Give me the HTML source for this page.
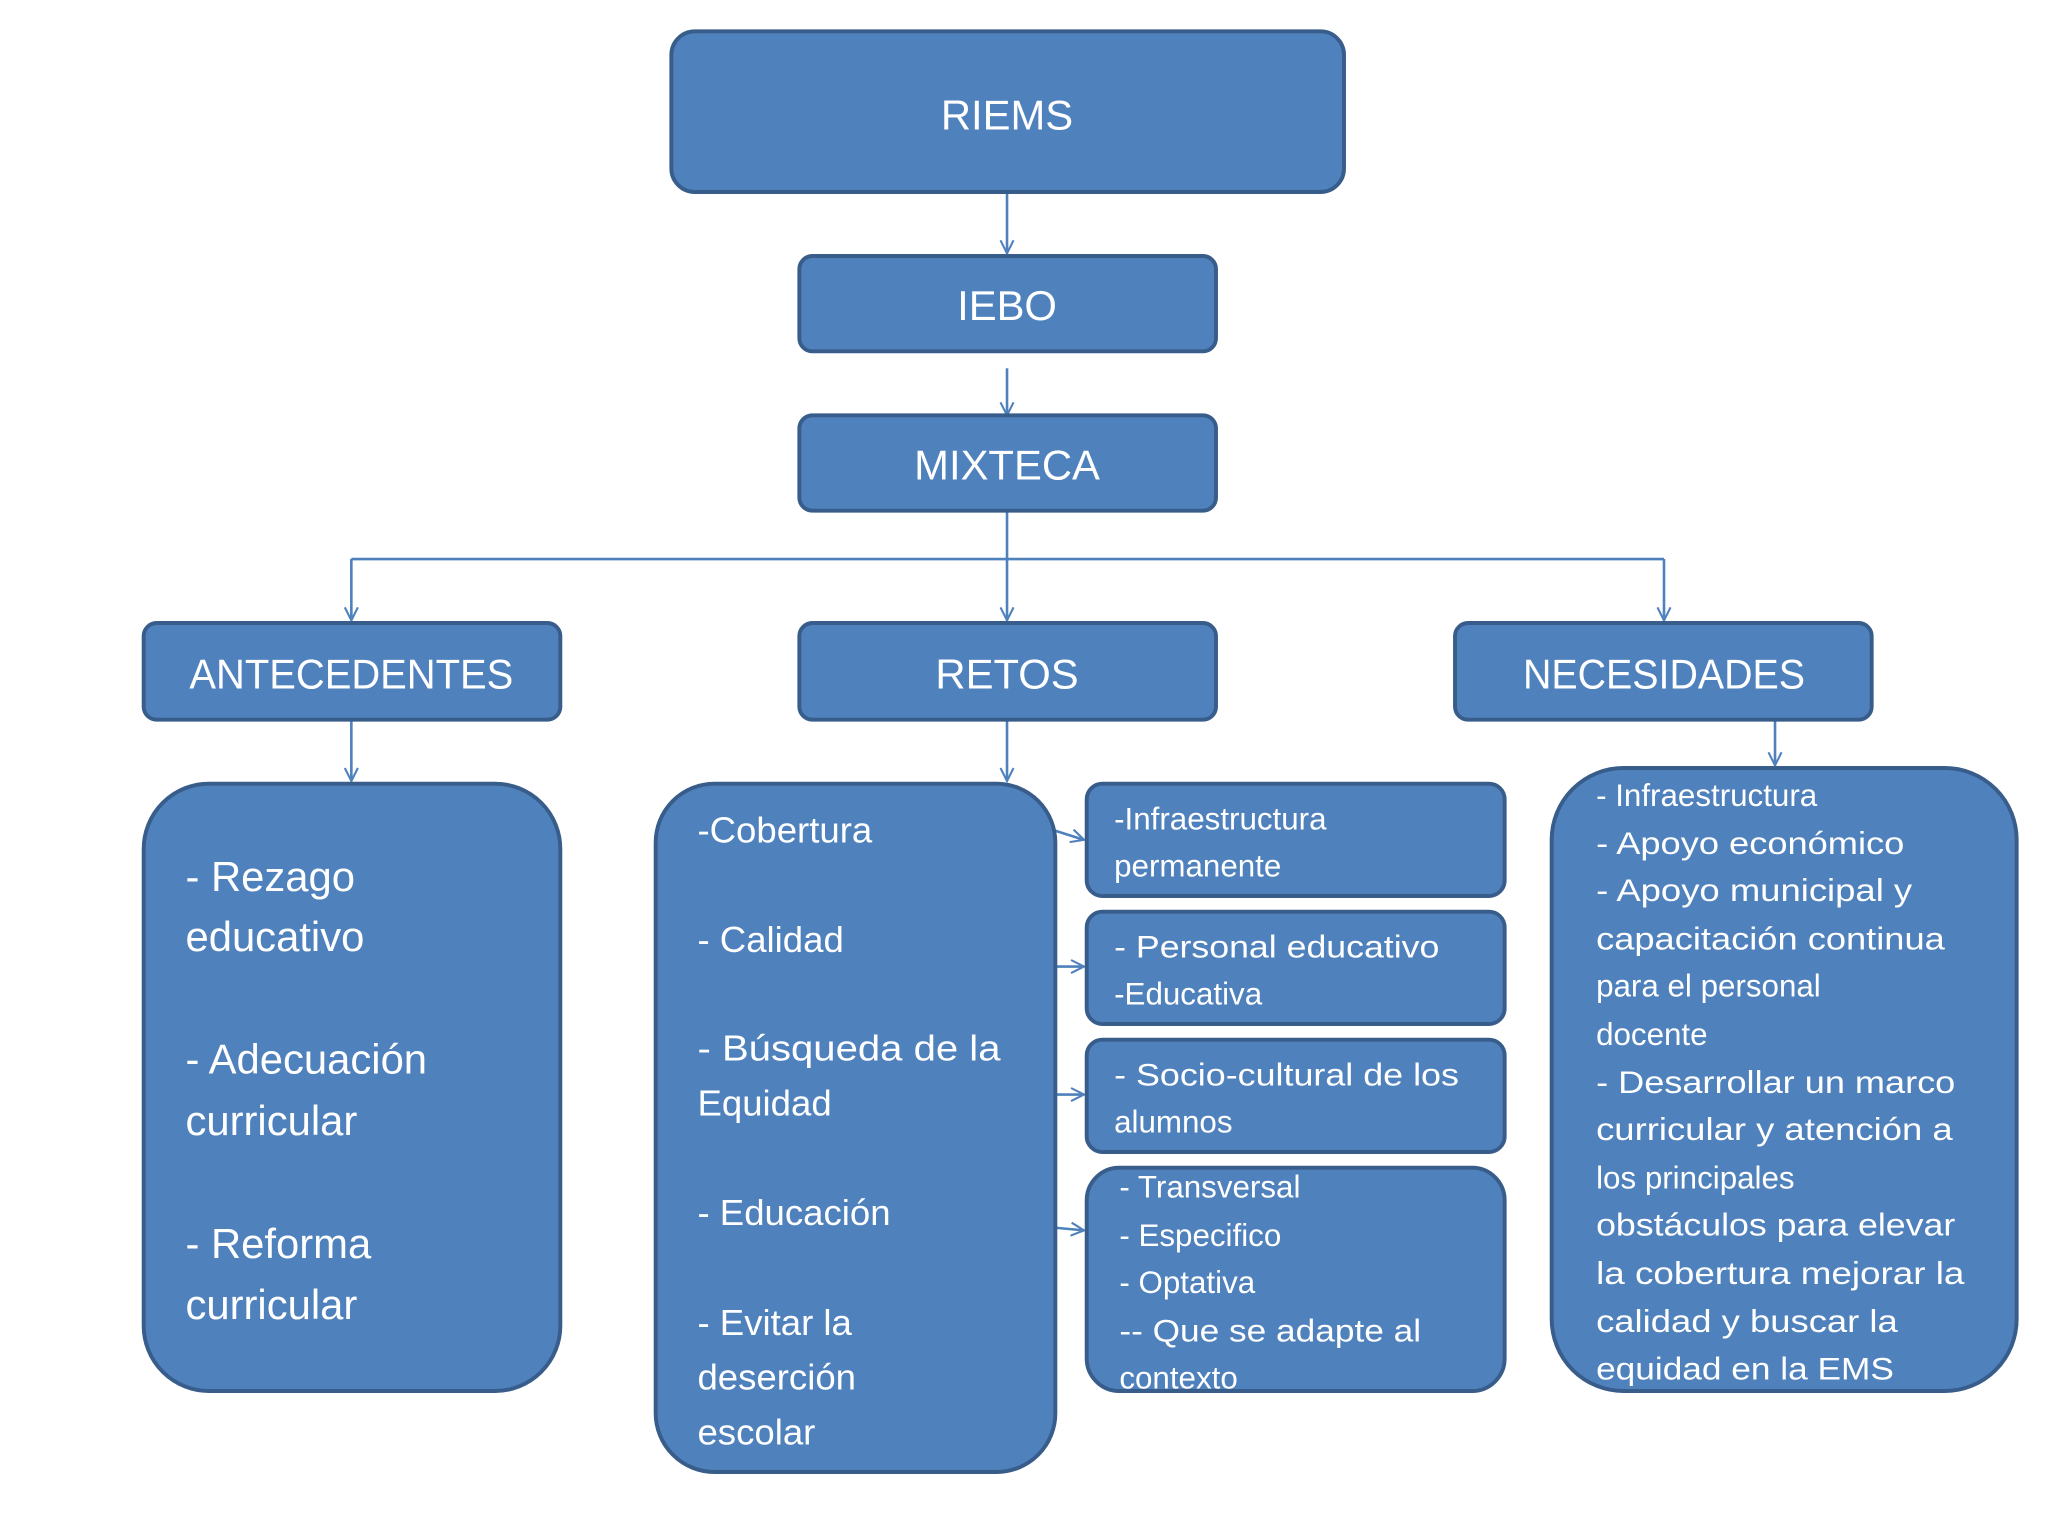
<!DOCTYPE html>
<html><head><meta charset="utf-8"><style>
html,body{margin:0;padding:0;background:#fff;}
svg{display:block;}
text{font-family:"Liberation Sans",sans-serif;fill:#fff;}
</style></head><body>
<svg width="2048" height="1536" viewBox="0 0 1568 1176" preserveAspectRatio="none" xmlns="http://www.w3.org/2000/svg">
<defs>
<marker id="a" viewBox="0 0 12 12" refX="11" refY="6" markerWidth="12" markerHeight="12" markerUnits="userSpaceOnUse" orient="auto">
<path d="M1 1 L11 6 L1 11" fill="none" stroke="#4F81BD" stroke-width="1.6"/>
</marker>
</defs>
<g stroke="#4F81BD" stroke-width="2" fill="none">
<line x1="771" y1="148" x2="771" y2="194" marker-end="url(#a)"/>
<line x1="771" y1="282" x2="771" y2="318" marker-end="url(#a)"/>
<polyline points="771,392 771,428"/>
<line x1="269" y1="428" x2="1274" y2="428"/>
<line x1="269" y1="428" x2="269" y2="475" marker-end="url(#a)"/>
<line x1="771" y1="428" x2="771" y2="475" marker-end="url(#a)"/>
<line x1="1274" y1="428" x2="1274" y2="475" marker-end="url(#a)"/>
<line x1="269" y1="552" x2="269" y2="598" marker-end="url(#a)"/>
<line x1="771" y1="552" x2="771" y2="598" marker-end="url(#a)"/>
<line x1="1359" y1="552" x2="1359" y2="586" marker-end="url(#a)"/>
<line x1="808" y1="636" x2="830" y2="643" marker-end="url(#a)"/>
<line x1="808" y1="740" x2="830" y2="740" marker-end="url(#a)"/>
<line x1="808" y1="838" x2="830" y2="838" marker-end="url(#a)"/>
<line x1="808" y1="940" x2="830" y2="942" marker-end="url(#a)"/>
</g>
<g fill="#4F81BD" stroke="#385D8A" stroke-width="3">
<rect x="514" y="24" width="515" height="123" rx="18"/>
<rect x="612" y="196" width="319" height="73" rx="10"/>
<rect x="612" y="318" width="319" height="73" rx="10"/>
<rect x="110" y="477" width="319" height="74" rx="10"/>
<rect x="612" y="477" width="319" height="74" rx="10"/>
<rect x="1114" y="477" width="319" height="74" rx="10"/>
<rect x="110" y="600" width="319" height="465" rx="50"/>
<rect x="502" y="600" width="306" height="527" rx="45"/>
<rect x="832" y="600" width="320" height="86" rx="12"/>
<rect x="832" y="698" width="320" height="86" rx="12"/>
<rect x="832" y="796" width="320" height="86" rx="12"/>
<rect x="832" y="894" width="320" height="171" rx="25"/>
<rect x="1188" y="588" width="356" height="477" rx="55"/>
</g>
<g font-size="32" text-anchor="middle">
<text x="771" y="99">RIEMS</text>
<text x="771" y="245">IEBO</text>
<text x="771" y="367">MIXTECA</text>
<text x="269" y="527" textLength="248" lengthAdjust="spacingAndGlyphs">ANTECEDENTES</text>
<text x="771" y="527">RETOS</text>
<text x="1274" y="527" textLength="216" lengthAdjust="spacingAndGlyphs">NECESIDADES</text>
</g>
<g font-size="32">
<text x="142" y="682">- Rezago</text>
<text x="142" y="728">educativo</text>
<text x="142" y="822">- Adecuación</text>
<text x="142" y="869">curricular</text>
<text x="142" y="963">- Reforma</text>
<text x="142" y="1010">curricular</text>
</g>
<g font-size="28">
<text x="534" y="645">-Cobertura</text>
<text x="534" y="729">- Calidad</text>
<text x="534" y="812" textLength="232" lengthAdjust="spacingAndGlyphs">- Búsqueda de la</text>
<text x="534" y="854">Equidad</text>
<text x="534" y="938">- Educación</text>
<text x="534" y="1022">- Evitar la</text>
<text x="534" y="1064">deserción</text>
<text x="534" y="1106">escolar</text>
</g>
<g font-size="24">
<text x="853" y="635">-Infraestructura</text>
<text x="853" y="671">permanente</text>
<text x="853" y="733" textLength="249" lengthAdjust="spacingAndGlyphs">- Personal educativo</text>
<text x="853" y="769">-Educativa</text>
<text x="853" y="831" textLength="264" lengthAdjust="spacingAndGlyphs">- Socio-cultural de los</text>
<text x="853" y="867">alumnos</text>
<text x="857" y="917">- Transversal</text>
<text x="857" y="954">- Especifico</text>
<text x="857" y="990">- Optativa</text>
<text x="857" y="1027" textLength="231" lengthAdjust="spacingAndGlyphs">-- Que se adapte al</text>
<text x="857" y="1063">contexto</text>
</g>
<g font-size="24">
<text x="1222" y="617">- Infraestructura</text>
<text x="1222" y="654" textLength="236" lengthAdjust="spacingAndGlyphs">- Apoyo económico</text>
<text x="1222" y="690" textLength="242" lengthAdjust="spacingAndGlyphs">- Apoyo municipal y</text>
<text x="1222" y="727" textLength="267" lengthAdjust="spacingAndGlyphs">capacitación continua</text>
<text x="1222" y="763">para el personal</text>
<text x="1222" y="800">docente</text>
<text x="1222" y="837" textLength="275" lengthAdjust="spacingAndGlyphs">- Desarrollar un marco</text>
<text x="1222" y="873" textLength="273" lengthAdjust="spacingAndGlyphs">curricular y atención a</text>
<text x="1222" y="910">los principales</text>
<text x="1222" y="946" textLength="275" lengthAdjust="spacingAndGlyphs">obstáculos para elevar</text>
<text x="1222" y="983" textLength="282" lengthAdjust="spacingAndGlyphs">la cobertura mejorar la</text>
<text x="1222" y="1020" textLength="231" lengthAdjust="spacingAndGlyphs">calidad  y buscar la</text>
<text x="1222" y="1056" textLength="228" lengthAdjust="spacingAndGlyphs">equidad en la EMS</text>
</g>
</svg>
</body></html>
